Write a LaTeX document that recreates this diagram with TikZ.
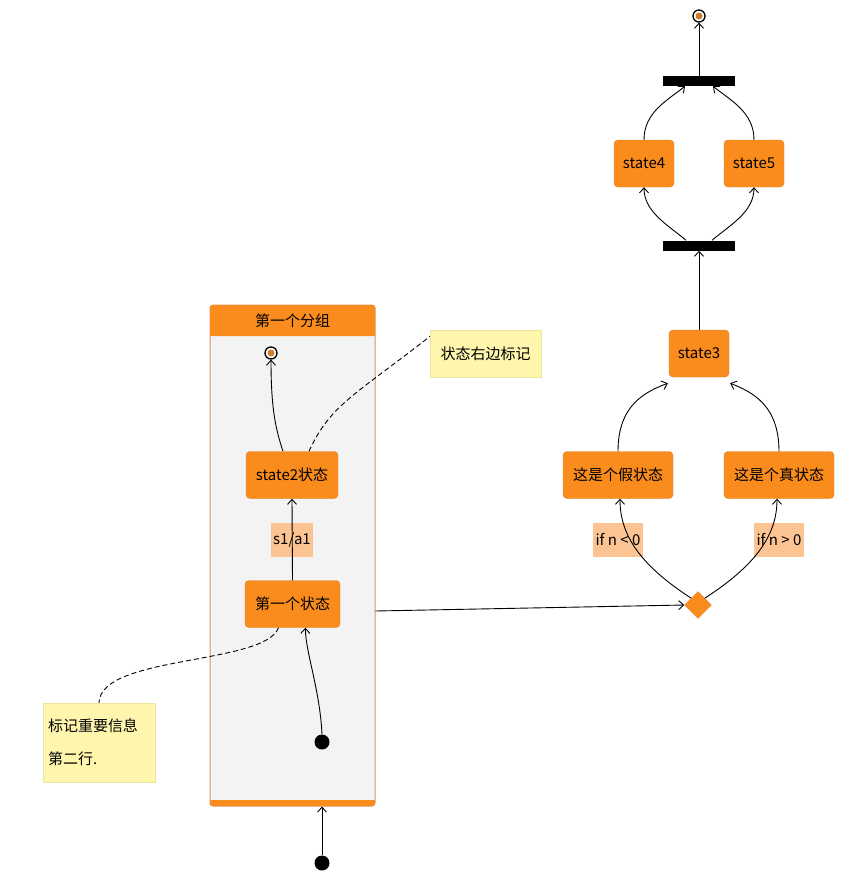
\documentclass[tikz,border=0pt]{standalone}
\usepackage{fontspec}
\setmainfont{Noto Sans CJK SC}
\usetikzlibrary{arrows.meta,shapes.geometric}
\definecolor{stfill}{RGB}{250,140,30}
\definecolor{stdraw}{RGB}{222,125,40}
\definecolor{lblbg}{RGB}{252,196,146}
\definecolor{notefill}{RGB}{255,246,174}
\definecolor{notedraw}{RGB}{236,228,160}
\definecolor{grpfill}{RGB}{243,243,243}
\definecolor{grpdraw}{RGB}{218,150,95}
\definecolor{dotfill}{RGB}{205,125,45}
\begin{document}
\begin{tikzpicture}[x=1pt,y=-1pt,font=\fontsize{15}{17}\selectfont,
  st/.style={draw=stdraw,fill=stfill,rounded corners=4pt,minimum height=47pt,inner sep=0pt},
  bar/.style={fill=black,minimum width=72pt,minimum height=10pt,inner sep=0pt},
  fin/.style={circle,draw=black,line width=1.3pt,fill=white,minimum size=12pt,inner sep=0pt},
  ini/.style={circle,fill=black,minimum size=15pt,inner sep=0pt},
  lbl/.style={fill=lblbg,minimum height=34pt,inner sep=2pt},
  note/.style={fill=notefill,draw=notedraw,inner sep=0pt},
  arr/.style={-{Straight Barb[length=5pt,width=9pt]},line width=0.9pt},
  dsh/.style={dashed,dash pattern=on 5pt off 3pt,line width=0.9pt}]
\useasboundingbox (0,0) rectangle (843,879);
% group
\node[draw=grpdraw,fill=grpfill,rounded corners=3pt,minimum width=165pt,minimum height=501pt,inner sep=0pt,line width=1pt] (grp) at (292.5,555.5) {};
\fill[stfill,rounded corners=3pt] (210,305) rectangle (375,336);
\fill[stfill] (210,322) rectangle (375,336);
\fill[stfill,rounded corners=3pt] (210,800) rectangle (375,806);
\fill[stfill] (210,800) rectangle (375,803);
\node (ghead) at (292.5,321) {第一个分组};
% right side
\node[fin] (f1) at (699,16) {};
\fill[dotfill] (f1) circle (3.5);
\node[bar] (b1) at (699,81) {};
\node[st,minimum width=60pt] (s4) at (644,163.5) {state4};
\node[st,minimum width=60pt] (s5) at (754,163.5) {state5};
\node[bar] (b2) at (699,245.5) {};
\node[st,minimum width=60pt] (s3) at (699,353.5) {state3};
\node[st,minimum width=110pt] (sf) at (618,475) {这是个假状态};
\node[st,minimum width=110pt] (stt) at (779,475) {这是个真状态};
\node[diamond,fill=stfill,draw=stdraw,minimum size=27pt,inner sep=0pt] (dec) at (698,605) {};
\node[lbl,minimum width=50pt] (l1) at (618,540) {if n < 0};
\node[lbl,minimum width=50pt] (l2) at (779,540) {if n > 0};
% group contents
\node[fin] (f2) at (271,353) {};
\fill[dotfill] (f2) circle (3.5);
\node[st,minimum width=92pt] (s2) at (292,475) {state2状态};
\node[lbl,minimum width=40pt] (l3) at (292,540) {s1/a1};
\node[st,minimum width=95pt] (s1) at (292.5,604) {第一个状态};
\node[ini] (i1) at (322,742) {};
\node[ini] (i0) at (322,863) {};
% notes
\node[note,minimum width=111pt,minimum height=47pt] (n1) at (485.5,353.5) {状态右边标记};
\node[note,minimum width=112pt,minimum height=79pt,align=left,text width=102pt,font=\fontsize{15}{33}\selectfont] (n2) at (99,742.5) {标记重要信息\\第二行.};
% edges
\draw[arr] (b1.north) -- (f1.south);
\draw[arr] (s4.north) .. controls (644,112) and (668,100) .. ([xshift=-14pt]b1.south);
\draw[arr] (s5.north) .. controls (754,112) and (730,100) .. ([xshift=14pt]b1.south);
\draw[arr] ([xshift=-13pt]b2.north) .. controls (668,225) and (644,212) .. (s4.south);
\draw[arr] ([xshift=13pt]b2.north) .. controls (730,225) and (754,212) .. (s5.south);
\draw[arr] (s3.north) -- (b2.south);
\draw[arr] (sf.north) .. controls (618,405) and (645,392) .. ([xshift=-1pt,yshift=-6pt]s3.south west);
\draw[arr] (stt.north) .. controls (779,405) and (752,392) .. ([xshift=1pt,yshift=-6pt]s3.south east);
\draw[arr] (dec.north west) .. controls (640,565) and (620,535) .. ([xshift=2pt]sf.south);
\draw[arr] (dec.north east) .. controls (756,565) and (777,535) .. ([xshift=-2pt]stt.south);
\draw[arr] (grp.east |- 0,611) -- (dec.west);
\draw[arr] ([xshift=-9pt]s2.north) .. controls (276,430) and (271,410) .. (f2.south);
\draw[arr] (s1.north) -- (s2.south);
\draw[arr] (i1.north) .. controls (320,690) and (305,650) .. ([xshift=13pt]s1.south);
\draw[arr] (i0.north) -- (grp.south -| i0);
\draw[dsh] ([xshift=17pt]s2.north) .. controls (330,405) and (355,395) .. ([yshift=17pt]n1.west);
\draw[dsh] ([xshift=-14pt]s1.south) .. controls (265,665) and (100,655) .. (n2.north);
\end{tikzpicture}
\end{document}
